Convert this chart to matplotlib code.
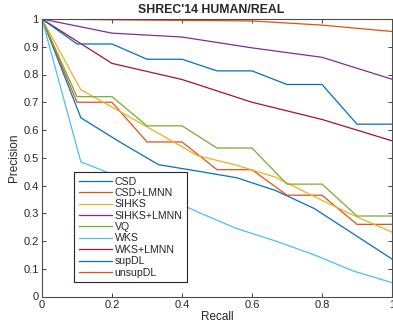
import matplotlib
matplotlib.use('Agg')
import matplotlib.pyplot as plt

plt.rcParams['font.family'] = ['Liberation Sans', 'DejaVu Sans']

# recall levels (three different samplings in the source plot)
recall9 = [0, 0.111, 0.222, 0.333, 0.444, 0.556, 0.667, 0.778, 0.889, 1.0]
recall10 = [0, 0.1, 0.2, 0.3, 0.4, 0.5, 0.6, 0.7, 0.8, 0.9, 1.0]
recall5 = [0, 0.2, 0.4, 0.6, 0.8, 1.0]

# precision values
csd = [1, 0.644, 0.557, 0.475, 0.452, 0.428, 0.382, 0.317, 0.226, 0.135]
csd_lmnn = [1, 0.70, 0.70, 0.557, 0.557, 0.457, 0.457, 0.365, 0.365, 0.26, 0.26]
sihks = [1, 0.745, 0.667, 0.588, 0.508, 0.473, 0.43, 0.36, 0.293, 0.232]
sihks_lmnn = [1, 0.949, 0.935, 0.896, 0.862, 0.783]
vq = [1, 0.72, 0.72, 0.615, 0.615, 0.535, 0.535, 0.405, 0.405, 0.29, 0.29]
wks = [1, 0.485, 0.43, 0.37, 0.305, 0.245, 0.2, 0.15, 0.092, 0.05]
wks_lmnn = [1, 0.84, 0.782, 0.70, 0.638, 0.561]
supdl = [1, 0.91, 0.91, 0.855, 0.855, 0.813, 0.813, 0.764, 0.764, 0.621, 0.621]
unsupdl = [1, 0.997, 0.995, 0.993, 0.978, 0.955]

series = [
    ('CSD', recall9, csd, '#0072BD'),
    ('CSD+LMNN', recall10, csd_lmnn, '#D95319'),
    ('SIHKS', recall9, sihks, '#EDB120'),
    ('SIHKS+LMNN', recall5, sihks_lmnn, '#7E2F8E'),
    ('VQ', recall10, vq, '#77AC30'),
    ('WKS', recall9, wks, '#4DBEEE'),
    ('WKS+LMNN', recall5, wks_lmnn, '#A2142F'),
    ('supDL', recall10, supdl, '#0072BD'),
    ('unsupDL', recall5, unsupdl, '#D95319'),
]

fig = plt.figure(figsize=(3.93, 3.33), dpi=100)
ax = fig.add_axes([42 / 393, (333 - 296.5) / 333, 350 / 393, 277.5 / 333])

for name, x, y, c in series:
    ax.plot(x, y, color=c, lw=0.9, label=name)

ax.set_xlim(0, 1)
ax.set_ylim(0, 1)
ax.set_xticks([0, 0.2, 0.4, 0.6, 0.8, 1.0])
ax.set_xticklabels(['0', '0.2', '0.4', '0.6', '0.8', '1'])
ax.set_yticks([0, 0.1, 0.2, 0.3, 0.4, 0.5, 0.6, 0.7, 0.8, 0.9, 1.0])
ax.set_yticklabels(['0', '0.1', '0.2', '0.3', '0.4', '0.5', '0.6', '0.7', '0.8', '0.9', '1'])
ax.tick_params(direction='in', top=True, right=True, length=3, width=0.6,
               labelsize=8, colors='#262626', pad=2.5)
for s in ax.spines.values():
    s.set_color('#4d4d4d')
    s.set_linewidth(0.8)

ax.set_xlabel('Recall', fontsize=8.5, color='#262626', labelpad=1)
ax.set_ylabel('Precision', fontsize=8.5, color='#262626', labelpad=2)
ax.set_title("SHREC'14 HUMAN/REAL", fontsize=8.8, fontweight='bold',
             color='#262626', x=0.483, pad=4)

leg = ax.legend(loc='lower left', bbox_to_anchor=(0.092, 0.051), borderaxespad=0,
                fontsize=7.6, handlelength=3.1, handletextpad=0.3,
                labelspacing=0.13, borderpad=0.45, fancybox=False,
                framealpha=1, edgecolor='#262626')
leg.get_frame().set_linewidth(0.8)
for t in leg.get_texts():
    t.set_color('#262626')

fig.savefig('out.png', dpi=100)
